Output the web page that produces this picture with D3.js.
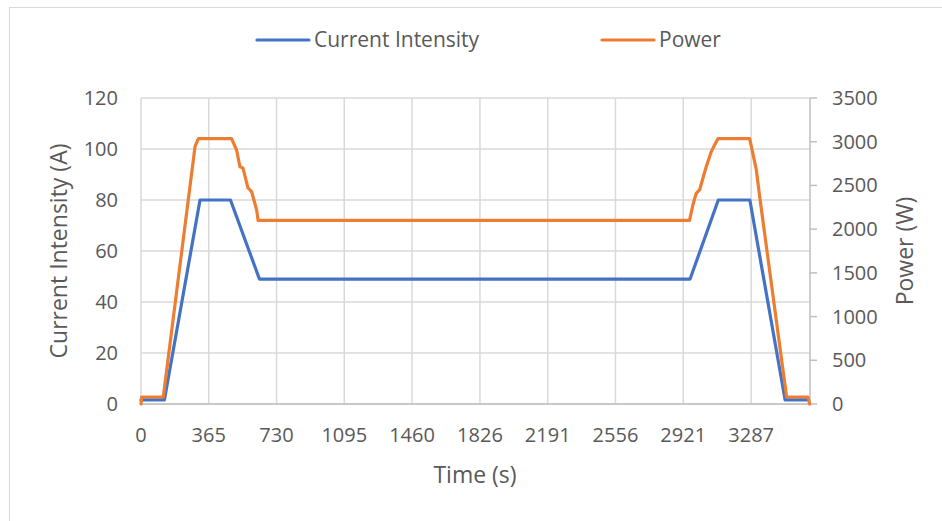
<!DOCTYPE html>
<html>
<head>
<meta charset="utf-8">
<script src="https://cdn.jsdelivr.net/npm/d3@7"></script>
<style>
  body { margin: 0; background: #fff; }
  svg { font-family: "Open Sans", sans-serif; }
</style>
</head>
<body>
<div id="chart"></div>
<script>
// values
var currentTime = [0, 126, 318, 482, 638, 2958, 3110, 3280, 3470, 3594];
var currentValues = [1.6, 1.6, 80, 80, 49, 49, 80, 80, 1.6, 1.6];

var powerTime = [0, 4, 120, 291, 309, 488, 515, 533, 549, 576, 596, 623, 631,
  2955, 2973, 2991, 3009, 3045, 3072, 3090, 3108, 3279, 3315, 3333, 3478, 3593, 3602];
var powerValues = [0, 80, 80, 2943, 3035, 3035, 2905, 2714, 2700, 2471, 2428, 2219, 2100,
  2100, 2276, 2410, 2448, 2714, 2886, 2962, 3035, 3035, 2677, 2371, 80, 80, 0];

var xTickLabels = [0, 365, 730, 1095, 1460, 1826, 2191, 2556, 2921, 3287];
var leftTicks = [0, 20, 40, 60, 80, 100, 120];
var rightTicks = [0, 500, 1000, 1500, 2000, 2500, 3000, 3500];

var width = 942, height = 521;
var margin = {left: 141, right: 132, top: 98, bottom: 117};
var textColor = "#595959";
var gridColor = "#d9d9d9";
var blue = "#4472C4", orange = "#ED7D31";

var svg = d3.select("#chart").append("svg")
  .attr("width", width)
  .attr("height", height);

// outer chart border
svg.append("rect")
  .attr("x", 9.5).attr("y", 7.5)
  .attr("width", width).attr("height", height)
  .attr("fill", "none")
  .attr("stroke", "#d9d9d9");

var x = d3.scaleLinear()
  .domain([0, 3604])
  .range([margin.left, width - margin.right]);

var yL = d3.scaleLinear()
  .domain([0, 120])
  .range([height - margin.bottom, margin.top]);

var yR = d3.scaleLinear()
  .domain([0, 3500])
  .range([height - margin.bottom, margin.top]);

// horizontal gridlines
svg.append("g")
  .selectAll("line")
  .data(leftTicks)
  .enter().append("line")
  .attr("x1", x(0)).attr("x2", x(3604))
  .attr("y1", d => yL(d)).attr("y2", d => yL(d))
  .attr("stroke", gridColor)
  .attr("stroke-width", 1.5);

// vertical gridlines
svg.append("g")
  .selectAll("line")
  .data(xTickLabels)
  .enter().append("line")
  .attr("x1", d => x(d)).attr("x2", d => x(d))
  .attr("y1", yL(0)).attr("y2", yL(120))
  .attr("stroke", gridColor)
  .attr("stroke-width", 1.5);

// bottom and right axis lines
svg.append("line")
  .attr("x1", x(0)).attr("x2", x(3604))
  .attr("y1", yL(0)).attr("y2", yL(0))
  .attr("stroke", "#bfbfbf").attr("stroke-width", 1.5);

svg.append("line")
  .attr("x1", x(3604)).attr("x2", x(3604))
  .attr("y1", yR(0)).attr("y2", yR(3500))
  .attr("stroke", "#bfbfbf").attr("stroke-width", 1.5);

// right axis tick marks
svg.append("g")
  .selectAll("line")
  .data(rightTicks)
  .enter().append("line")
  .attr("x1", x(3604)).attr("x2", x(3604) + 7)
  .attr("y1", d => yR(d)).attr("y2", d => yR(d))
  .attr("stroke", "#bfbfbf").attr("stroke-width", 1.5);

// tick labels
svg.append("g")
  .selectAll("text")
  .data(leftTicks)
  .enter().append("text")
  .attr("x", 118)
  .attr("y", d => yL(d))
  .attr("dy", "0.35em")
  .attr("text-anchor", "end")
  .attr("fill", textColor)
  .style("font-size", "20px")
  .text(d => d);

svg.append("g")
  .selectAll("text")
  .data(rightTicks)
  .enter().append("text")
  .attr("x", 832)
  .attr("y", d => yR(d))
  .attr("dy", "0.35em")
  .attr("fill", textColor)
  .style("font-size", "20px")
  .text(d => d);

svg.append("g")
  .selectAll("text")
  .data(xTickLabels)
  .enter().append("text")
  .attr("x", d => x(d))
  .attr("y", 435)
  .attr("dy", "0.35em")
  .attr("text-anchor", "middle")
  .attr("fill", textColor)
  .style("font-size", "20px")
  .text(d => d);

// axis titles
svg.append("text")
  .attr("transform", "translate(59," + (yL(60)) + ") rotate(-90)")
  .attr("dy", "0.35em")
  .attr("text-anchor", "middle")
  .attr("fill", textColor)
  .style("font-size", "23px")
  .text("Current Intensity (A)");

svg.append("text")
  .attr("transform", "translate(905," + (yL(60)) + ") rotate(-90)")
  .attr("dy", "0.35em")
  .attr("text-anchor", "middle")
  .attr("fill", textColor)
  .style("font-size", "23px")
  .text("Power (W)");

svg.append("text")
  .attr("x", 475)
  .attr("y", 475)
  .attr("dy", "0.35em")
  .attr("text-anchor", "middle")
  .attr("fill", textColor)
  .style("font-size", "23px")
  .text("Time (s)");

// series
var currentLine = d3.line()
  .x((d, i) => x(currentTime[i]))
  .y(d => yL(d));

var powerLine = d3.line()
  .x((d, i) => x(powerTime[i]))
  .y(d => yR(d));

svg.append("path")
  .datum(currentValues)
  .attr("d", currentLine)
  .attr("fill", "none")
  .attr("stroke", blue)
  .attr("stroke-width", 3.2)
  .attr("stroke-linejoin", "round")
  .attr("stroke-linecap", "round");

svg.append("path")
  .datum(powerValues)
  .attr("d", powerLine)
  .attr("fill", "none")
  .attr("stroke", orange)
  .attr("stroke-width", 3.2)
  .attr("stroke-linejoin", "round")
  .attr("stroke-linecap", "round");

// legend
var legend = [
  {name: "Current Intensity", color: blue, x: 257},
  {name: "Power", color: orange, x: 602}
];
var lg = svg.append("g").selectAll("g")
  .data(legend)
  .enter().append("g");
lg.append("line")
  .attr("x1", d => d.x).attr("x2", d => d.x + 52)
  .attr("y1", 40).attr("y2", 40)
  .attr("stroke", d => d.color)
  .attr("stroke-width", 3.2)
  .attr("stroke-linecap", "round");
lg.append("text")
  .attr("x", d => d.x + 57)
  .attr("y", 40)
  .attr("dy", "0.35em")
  .attr("fill", textColor)
  .style("font-size", "21px")
  .text(d => d.name);
</script>
</body>
</html>
